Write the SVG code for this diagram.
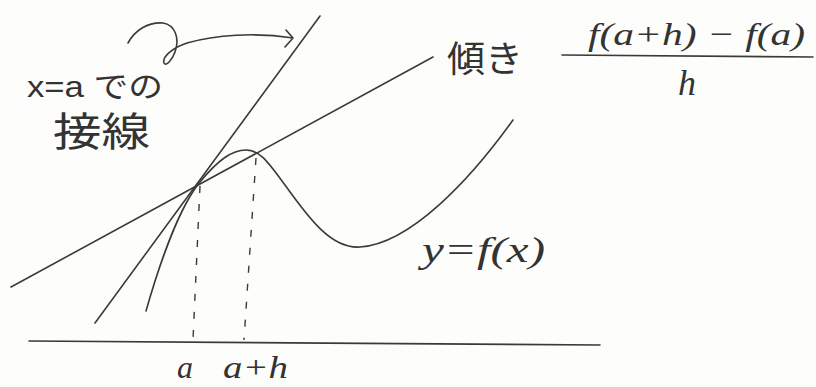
<svg xmlns="http://www.w3.org/2000/svg" width="816" height="387" viewBox="0 0 816 387">
<style>
.ln{fill:none;stroke:#3a3a3a;stroke-width:1.6;stroke-linecap:round;stroke-linejoin:round}
.dash{fill:none;stroke:#3a3a3a;stroke-width:1.4;stroke-dasharray:7 11}
.t{font-family:"Liberation Sans","Noto Sans CJK JP",sans-serif;fill:#333}
.m{font-family:"Liberation Serif","Noto Sans CJK JP",serif;font-style:italic;fill:#333}
</style>
<rect width="816" height="387" fill="#fdfdfb"/>
<g id="connectors">
<path id="axis" class="ln" d="M29,341 L600,345"/>
<path id="tangent" class="ln" d="M320,16 L95,323"/>
<path id="secant" class="ln" d="M433,57 L11,287"/>
<path id="curve" class="ln" d="M146,311 C160,262 180,206 200,182 C218,160 232,150 246,150 C260,150 268,162 285,185 C310,220 332,249 360,247 C410,244 470,180 513,120"/>
<path id="dash-a" class="dash" d="M200,186 L193,340"/>
<path id="dash-ah" class="dash" d="M256,158 L244,340"/>
<path id="curly-arrow" class="ln" d="M128,43 C135,30 148,22 163,23 C175,25 180,38 175,52 C172,60 166,67 164,63 C162,57 172,48 187,43 C215,35 255,32 293,38 M286,30 L293,38 L285,47"/>
</g>
<g id="label-tangent">
<text class="t" x="27" y="97" font-size="30" textLength="136" lengthAdjust="spacingAndGlyphs">x=a での</text>
<text class="t" x="53" y="146" font-size="40" textLength="97" lengthAdjust="spacingAndGlyphs">接線</text>
</g>
<g id="label-slope">
<text class="t" x="447" y="72" font-size="36" textLength="76" lengthAdjust="spacingAndGlyphs">傾き</text>
</g>
<g id="fraction">
<text class="m" x="588" y="45" font-size="32" textLength="217" lengthAdjust="spacingAndGlyphs">f(a+h) − f(a)</text>
<path class="ln" d="M562,55 L813,57"/>
<text class="m" x="678" y="95" font-size="36">h</text>
</g>
<g id="label-fx">
<text class="m" x="422" y="262" font-size="36" textLength="123" lengthAdjust="spacingAndGlyphs">y=f(x)</text>
</g>
<g id="label-a">
<text class="m" x="177" y="378" font-size="32">a</text>
</g>
<g id="label-ah">
<text class="m" x="223" y="378" font-size="32" textLength="65" lengthAdjust="spacingAndGlyphs">a+h</text>
</g>
</svg>
